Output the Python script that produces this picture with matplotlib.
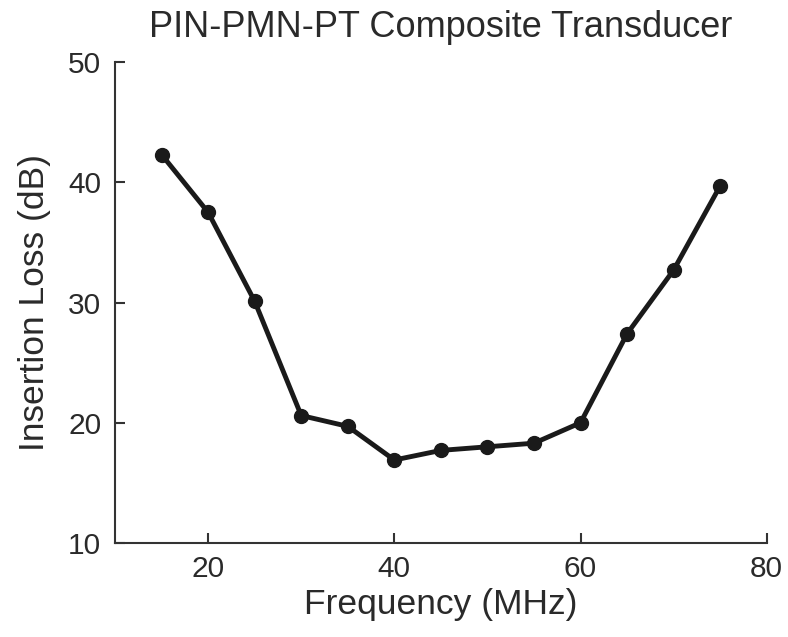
import matplotlib
matplotlib.use("Agg")
import matplotlib.pyplot as plt

# frequency (MHz) and insertion loss (dB)
freq = [15, 20, 25, 30, 35, 40, 45, 50, 55, 60, 65, 70, 75]
loss = [42.3, 37.5, 30.1, 20.6, 19.7, 16.9, 17.7, 18.0, 18.3, 20.0, 27.4, 32.7, 39.7]

x_ticks = [20, 40, 60, 80]
y_ticks = [10, 20, 30, 40, 50]

plt.rcParams["font.family"] = ["Liberation Sans", "DejaVu Sans"]

fig = plt.figure(figsize=(7.88, 6.37), dpi=100)
ax = fig.add_axes([0.146, 0.1476, 0.827, 0.755])

ax.plot(freq, loss, color="#1a1a1a", linewidth=3.5, marker="o", markersize=10,
        markerfacecolor="#1a1a1a", markeredgecolor="#1a1a1a", clip_on=False)

ax.set_xlim(10, 80)
ax.set_ylim(10, 50)
ax.set_xticks(x_ticks)
ax.set_yticks(y_ticks)

for side in ("top", "right"):
    ax.spines[side].set_visible(False)
for side in ("left", "bottom"):
    ax.spines[side].set_linewidth(1.5)
    ax.spines[side].set_color("#333333")

ax.tick_params(direction="in", length=7, width=1.5, color="#333333",
               labelsize=21.5, labelcolor="#2a2a2a")
ax.tick_params(axis="y", pad=10)
ax.tick_params(axis="x", pad=9)

ax.set_xlabel("Frequency (MHz)", fontsize=25.5, color="#2a2a2a", labelpad=3)
ax.set_ylabel("Insertion Loss (dB)", fontsize=25.5, color="#2a2a2a", labelpad=12)
ax.set_title("PIN-PMN-PT Composite Transducer", fontsize=26, color="#2a2a2a", pad=18)

fig.savefig("out.png", dpi=100)
